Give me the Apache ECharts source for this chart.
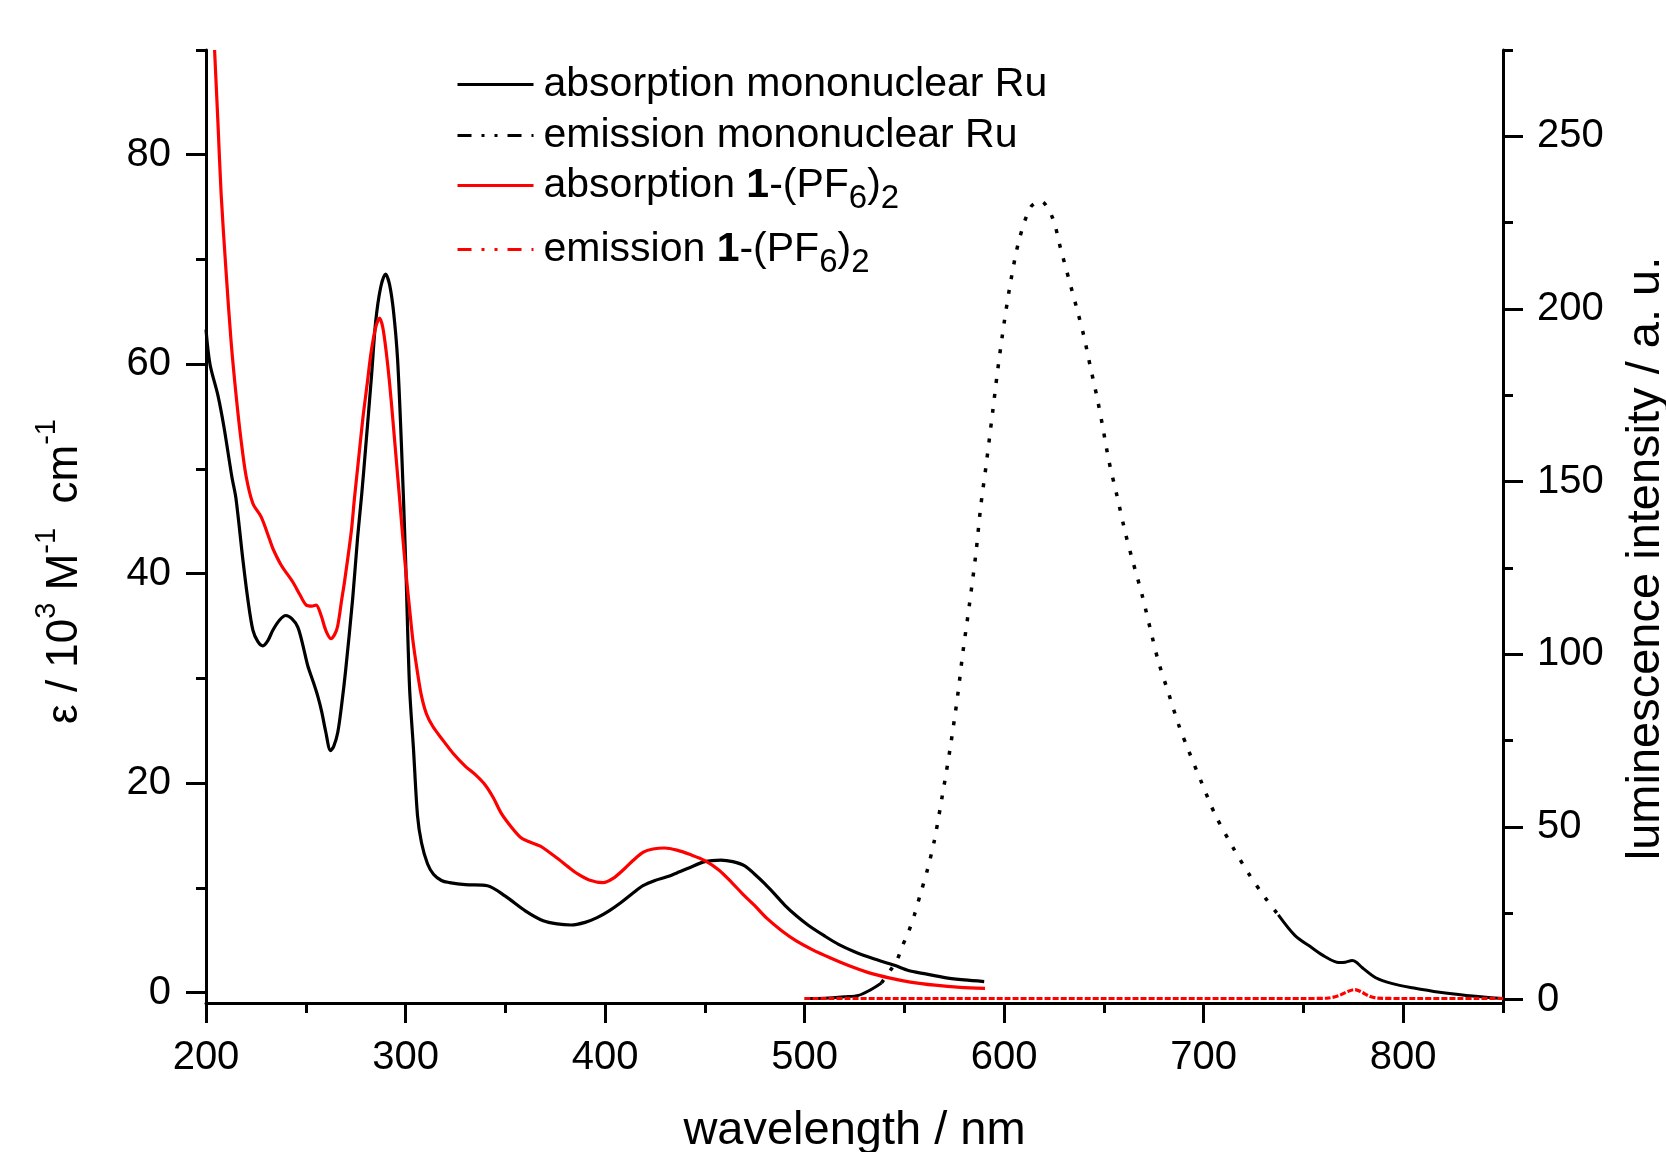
<!DOCTYPE html>
<html>
<head>
<meta charset="utf-8">
<script src="https://cdn.jsdelivr.net/npm/echarts@6/dist/echarts.min.js"></script>
<style>
html,body{margin:0;padding:0;background:#fff;}
#chart{width:1666px;height:1152px;}
</style>
</head>
<body>
<div id="chart"></div>
<script>
// absorption, mononuclear Ru (left axis, 10^3 M-1 cm-1)
var absRuNm = [200,202,206,209,213,215,218.5,221,223.5,226,228.5,231,233.5,237,240,243,246,248.5,251,253.5,256,258,260,262.4,264,266,268,270,273.5,276,278,280,283,285,287.5,290,292,294,296,298,300,302,304,306,308,311,314,318,322,330,341,350,360,369,376,383,390,396,402,408,414,419,425,431,437,442,450,458,464,470,475,480,485,490,496,502,510,517,525,535,545,552,560,571,580,590];
var absRuEps = [63.3,60,57,54,49.2,47.2,41.3,37.5,34.6,33.5,33.1,33.6,34.6,35.6,36,35.7,34.9,33.2,31.2,29.8,28.3,26.8,24.9,23.1,23.5,24.8,27.5,30.8,37.6,43.5,47.5,52,59,64,67.3,68.6,67.6,65,60.5,52,41.5,29.2,23.2,16.9,14.3,12.3,11.3,10.7,10.5,10.3,10.2,9.2,7.8,6.85,6.55,6.45,6.7,7.15,7.8,8.6,9.5,10.2,10.7,11.05,11.5,11.9,12.5,12.65,12.5,12.1,11.3,10.4,9.4,8.35,7.3,6.4,5.4,4.6,3.9,3.2,2.6,2.1,1.8,1.4,1.2,1.05];

// absorption, 1-(PF6)2 (left axis)
var abs1Nm = [204.3,206,207.6,210,212.6,215.1,217.6,220.1,223.5,227.7,231.8,233.5,237.7,243.5,247,250.2,253,255.2,257.7,260,262.6,264.5,266,268,269.4,272.8,274.4,276.5,278.6,280.7,282.8,285,287,288.6,290.3,292,293.6,295.3,297,298.6,300.3,302,303.7,305.8,307.9,310.5,313.7,318.7,324,330,335,340,344,348,353,357.7,362,367.3,372,376.9,381.5,386.5,392,399,404,409.6,414,419.2,424,429.8,436,442.3,450,457,463.5,469,475,481,488.5,496,503.8,513,523,532,542.3,553,565.4,578,590.4];
var abs1Eps = [90,83,76.2,69,62.1,57,52.7,49.3,46.7,45.4,43.3,42.4,40.8,39.2,38,37,36.9,37,36,34.6,33.8,34.2,35,37.5,39.2,44,47.2,51,54.8,58,61.2,63.5,64.4,63.5,61.2,58.2,54.8,51,47.2,43.5,39.9,36.7,33.6,30.8,28.4,26.6,25.4,24.1,22.8,21.6,20.8,19.8,18.6,17.1,15.8,14.8,14.4,14,13.4,12.7,12,11.3,10.75,10.5,10.9,11.8,12.6,13.4,13.7,13.8,13.6,13.2,12.6,11.7,10.5,9.4,8.3,7.1,5.9,4.9,4.1,3.3,2.5,1.9,1.4,1,0.7,0.5,0.4];

// emission, mononuclear Ru (right axis, a. u.)
var emRuNm = [500,510,520,527,533,538.5,543,546,549,552,555,558,561.5,565,569,573,576.7,579.2,582.5,585.8,588.3,590.8,594.2,596.7,600,603.3,607.5,613.3,618.3,624.2,628.3,632.5,636.7,640,643.3,646.7,649.2,652.5,656.7,660.8,664.2,669.2,674.2,677.5,682.5,687.5,692.5,699.2,705.8,714.2,722.5,730.8,737.4,745.8,754.2,760.9,767.7,771,774.4,776.5,779.5,786.2,794.6,804.7,818.2,831.6,850];
var emRuInt = [0.3,0.4,0.8,1.2,2.8,4.8,8.5,11,15.5,19.5,24.5,30.5,37.5,46,59,73,88,100,114,129,143,154,170,182,196,208,220,229.5,231.3,226.5,217.5,208.5,199.5,192,183,174,166.5,156,145.5,135,127.5,117,105,97.5,88.5,79.5,72,62.5,53.5,44.5,36.5,29.5,24.5,18.5,15,12.4,10.7,10.8,11.3,10.8,9.2,6.3,4.6,3.4,2.1,1.2,0.3];

// emission, 1-(PF6)2 (right axis)
var em1Nm = [500,550,600,650,700,750,762,768,772,775.8,779,783,787,800,850];
var em1Int = [0.3,0.3,0.3,0.3,0.3,0.3,0.4,1.2,2.3,2.9,2.2,1.0,0.4,0.3,0.3];

// ticks
var xMajor = [200,300,400,500,600,700,800];
var xMinor = [250,350,450,550,650,750,850];
var leftMajor = [0,20,40,60,80];
var leftMinor = [10,30,50,70,90];
var rightMajor = [0,50,100,150,200,250];
var rightMinor = [25,75,125,175,225,275];

var FONT = "'Liberation Sans', Arial, sans-serif";

function pts(xs, ys, lo, hi){
  var out = [];
  for (var i = 0; i < xs.length; i++){
    if (xs[i] >= lo && xs[i] <= hi) out.push([xs[i], ys[i]]);
  }
  return out;
}

var myChart = echarts.init(document.getElementById('chart'), null, {renderer:'canvas'});

var axLine = {show:true, onZero:false, lineStyle:{color:'#000', width:3}};
var noLine = {show:false, onZero:false};
var tickStyle = {color:'#000', width:3};
var lblStyle = {color:'#000', fontSize:40, fontFamily:FONT};

function legendRow(name, top, fmt, lineType){
  return {
    data:[name],
    left:456, top:top,
    padding:0,
    orient:'vertical',
    itemWidth:76, itemHeight:4,
    selectedMode:false,
    formatter:fmt,
    itemStyle:{opacity:0, borderWidth:0},
    lineStyle:{type:lineType || 'solid', width:3},
    textStyle:{
      color:'#000', fontSize:41, lineHeight:41, fontFamily:FONT, padding:[0,0,0,5],
      rich:{
        b:{fontSize:41, lineHeight:41, fontWeight:'bold', fontFamily:FONT, color:'#000'},
        sub:{fontSize:33, lineHeight:41, verticalAlign:'top', padding:[17,0,0,0], fontFamily:FONT, color:'#000'}
      }
    }
  };
}

var dashDotDot = [14,10,3,10,3,10];

var option = {
  backgroundColor:'#fff',
  animation:false,
  grid:{left:206, top:50, width:1297, height:953, outerBoundsMode:'none'},
  legend:[
    legendRow('absorption mononuclear Ru', 64, 'absorption mononuclear Ru'),
    legendRow('emission mononuclear Ru', 115, 'emission mononuclear Ru', dashDotDot),
    legendRow('absorption 1-(PF6)2', 165, 'absorption {b|1}-(PF{sub|6}){sub|2}'),
    legendRow('emission 1-(PF6)2', 229, 'emission {b|1}-(PF{sub|6}){sub|2}', dashDotDot)
  ],
  xAxis:[
    {
      type:'value', min:200, max:850, position:'bottom',
      axisLine:axLine,
      axisTick:{show:true, length:20, lineStyle:tickStyle, customValues:xMajor},
      axisLabel:Object.assign({margin:35, customValues:xMajor}, lblStyle),
      splitLine:{show:false},
      name:'wavelength / nm', nameLocation:'middle', nameGap:105,
      nameTextStyle:{color:'#000', fontSize:47, fontFamily:FONT}
    },
    {
      type:'value', min:200, max:850, position:'bottom', offset:0,
      axisLine:noLine,
      axisTick:{show:true, length:10, lineStyle:tickStyle, customValues:xMinor},
      axisLabel:{show:false},
      splitLine:{show:false}
    }
  ],
  yAxis:[
    {
      type:'value', min:-1, max:90, position:'left',
      axisLine:axLine,
      axisTick:{show:true, length:20, lineStyle:tickStyle, customValues:leftMajor},
      axisLabel:Object.assign({margin:35, customValues:leftMajor}, lblStyle),
      splitLine:{show:false},
      name:'{m|ε / 10}{s|3}{m| M}{s|-1}{m|  cm}{s|-1}',
      nameLocation:'middle', nameRotate:90, nameGap:108,
      nameTextStyle:{
        color:'#000', fontFamily:FONT, padding:[0,90,0,0],
        rich:{
          m:{fontSize:44, lineHeight:66, verticalAlign:'middle', fontFamily:FONT, color:'#000'},
          s:{fontSize:29, lineHeight:4, verticalAlign:'top', fontFamily:FONT, color:'#000'}
        }
      }
    },
    {
      type:'value', min:-1, max:275, position:'right',
      axisLine:axLine,
      axisTick:{show:true, length:20, lineStyle:tickStyle, customValues:rightMajor},
      axisLabel:Object.assign({margin:34, customValues:rightMajor}, lblStyle),
      splitLine:{show:false},
      name:'luminescence intensity / a. u.',
      nameLocation:'middle', nameRotate:90, nameGap:120,
      nameTextStyle:{color:'#000', fontSize:47, fontFamily:FONT, padding:[0,64,0,0]}
    },
    {
      type:'value', min:-1, max:90, position:'left', offset:0,
      axisLine:noLine,
      axisTick:{show:true, length:10, lineStyle:tickStyle, customValues:leftMinor},
      axisLabel:{show:false},
      splitLine:{show:false}
    },
    {
      type:'value', min:-1, max:275, position:'right', offset:0,
      axisLine:noLine,
      axisTick:{show:true, length:10, lineStyle:tickStyle, customValues:rightMinor},
      axisLabel:{show:false},
      splitLine:{show:false}
    }
  ],
  series:[
    {
      name:'emission mononuclear Ru', type:'line', yAxisIndex:1, symbol:'none', smooth:0.3,
      data:pts(emRuNm, emRuInt, 538.5, 737.4),
      lineStyle:{color:'#000', width:3.5, type:[4,11]}, itemStyle:{color:'#000'}
    },
    {
      name:'em ru start', type:'line', yAxisIndex:1, symbol:'none', smooth:0.3,
      data:pts(emRuNm, emRuInt, 500, 538.5),
      lineStyle:{color:'#000', width:3}, itemStyle:{color:'#000'}
    },
    {
      name:'em ru tail', type:'line', yAxisIndex:1, symbol:'none', smooth:0.3,
      data:pts(emRuNm, emRuInt, 737.4, 850),
      lineStyle:{color:'#000', width:3}, itemStyle:{color:'#000'}
    },
    {
      name:'emission 1-(PF6)2', type:'line', yAxisIndex:1, symbol:'none', smooth:0.3,
      data:pts(em1Nm, em1Int, 500, 850),
      lineStyle:{color:'#ff0000', width:3.2, type:[6,2]}, itemStyle:{color:'#ff0000'}
    },
    {
      name:'absorption mononuclear Ru', type:'line', yAxisIndex:0, symbol:'none', smooth:0.3,
      data:pts(absRuNm, absRuEps, 0, 1000),
      lineStyle:{color:'#000', width:3.2}, itemStyle:{color:'#000'}
    },
    {
      name:'absorption 1-(PF6)2', type:'line', yAxisIndex:0, symbol:'none', smooth:0.3,
      data:pts(abs1Nm, abs1Eps, 0, 1000),
      lineStyle:{color:'#ff0000', width:3.2}, itemStyle:{color:'#ff0000'}
    }
  ]
};

myChart.setOption(option);
window.addEventListener('resize', function(){ myChart.resize(); });
</script>
</body>
</html>
